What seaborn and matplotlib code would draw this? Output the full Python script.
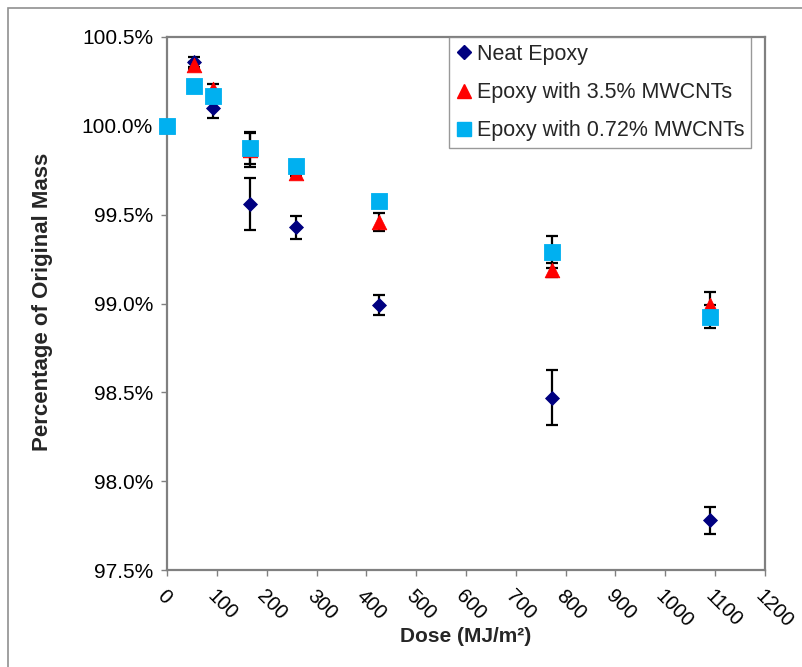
import matplotlib
matplotlib.use("Agg")
import matplotlib.pyplot as plt
import seaborn as sns
import pandas as pd
from matplotlib.lines import Line2D
from matplotlib.patches import Rectangle
from matplotlib.ticker import FuncFormatter

# ---- data ----
dose = [0, 55, 93, 167, 259, 426, 773, 1090]
series_names = ["Neat Epoxy", "Epoxy with 3.5% MWCNTs", "Epoxy with 0.72% MWCNTs"]
neat = [100.0, 100.36, 100.10, 99.56, 99.43, 98.99, 98.47, 97.78]
neat_err = [0.0, 0.03, 0.055, 0.145, 0.065, 0.057, 0.155, 0.075]
mw35 = [100.0, 100.34, 100.21, 99.865, 99.735, 99.46, 99.19, 98.99]
mw35_err = [0.0, 0.02, 0.025, 0.094, 0.02, 0.05, 0.04, 0.075]
mw072 = [100.0, 100.226, 100.168, 99.874, 99.776, 99.577, 99.292, 98.926]
mw072_err = [0.0, 0.02, 0.03, 0.09, 0.02, 0.03, 0.09, 0.065]
x_ticks = list(range(0, 1201, 100))
y_ticks = [97.5, 98.0, 98.5, 99.0, 99.5, 100.0, 100.5]

colors = {"Neat Epoxy": "#000080",
          "Epoxy with 3.5% MWCNTs": "#FF0000",
          "Epoxy with 0.72% MWCNTs": "#00B0F0"}
markers = {"Neat Epoxy": "D",
           "Epoxy with 3.5% MWCNTs": "^",
           "Epoxy with 0.72% MWCNTs": "s"}
sizes = {"Neat Epoxy": 50, "Epoxy with 3.5% MWCNTs": 110, "Epoxy with 0.72% MWCNTs": 120}

vals = [neat, mw35, mw072]
errs = [neat_err, mw35_err, mw072_err]
rows = []
for name, v, e in zip(series_names, vals, errs):
    for d, y, er in zip(dose, v, e):
        rows.append({"Dose": d, "Mass": y, "Err": er, "Series": name})
df = pd.DataFrame(rows)

sns.set_theme(style="white")
plt.rcParams["font.family"] = ["Liberation Sans", "DejaVu Sans"]

fig = plt.figure(figsize=(8.03, 6.67), dpi=100)
ax = fig.add_axes([167/803, 1-570/667, (765-167)/803, (570-37)/667])

# error bars
for name in series_names:
    sub = df[df["Series"] == name]
    ax.errorbar(sub["Dose"], sub["Mass"], yerr=sub["Err"], fmt="none",
                ecolor="black", elinewidth=1.6, capsize=4.5, capthick=1.6, zorder=2)

# markers
for name in series_names:
    sub = df[df["Series"] == name]
    sns.scatterplot(data=sub, x="Dose", y="Mass", marker=markers[name],
                    color=colors[name], s=sizes[name], linewidth=0.6,
                    edgecolor=colors[name], ax=ax, zorder=3, legend=False,
                    clip_on=False)

ax.set_xlim(0, 1200)
ax.set_ylim(97.5, 100.5)
ax.set_xticks(x_ticks)
ax.set_yticks(y_ticks)
ax.yaxis.set_major_formatter(FuncFormatter(lambda v, p: f"{v:.1f}%"))
ax.set_xticklabels([str(t) for t in x_ticks], rotation=-45, ha="left", va="top",
                   rotation_mode="anchor", fontsize=14.5)
for lab in ax.get_yticklabels():
    lab.set_fontsize(15)

for sp in ax.spines.values():
    sp.set_color("#808080")
    sp.set_linewidth(1.6)
    sp.set_visible(True)
ax.tick_params(axis="both", which="major", direction="out", length=4, width=1,
               color="#808080", labelcolor="black", bottom=True, left=True)
ax.tick_params(axis="x", pad=8)
ax.tick_params(axis="y", pad=6)

ax.set_xlabel("")
ax.set_ylabel("")
fig.text(43/803, 1-302/667, "Percentage of Original Mass", fontsize=16, fontweight="bold",
         rotation=90, ha="center", va="center")
fig.text(466/803, 1-637/667, "Dose (MJ/m²)", fontsize=15, fontweight="bold",
         ha="center", va="center")

handles = [Line2D([0], [0], marker=markers[n], color="none", markerfacecolor=colors[n],
                  markeredgecolor=colors[n],
                  markersize=10, linestyle="none")
           for n in series_names]
handles[0].set_markersize(7)
leg = ax.legend(handles, series_names, loc="upper right",
                bbox_to_anchor=((751-167)/598, 1.0), borderaxespad=0,
                fontsize=15.5, frameon=True, fancybox=False, edgecolor="#808080",
                handlelength=0.7, handletextpad=0.25, labelspacing=0.8,
                borderpad=0.32, markerscale=1.0)
leg.get_frame().set_linewidth(1.0)

# outer chart border
fig.patches.append(Rectangle((8/803, -0.1), 1.2, 1 - 8/667 + 0.1, transform=fig.transFigure,
                             fill=False, edgecolor="#909090", linewidth=1.2))

fig.savefig("out.png", dpi=100)
